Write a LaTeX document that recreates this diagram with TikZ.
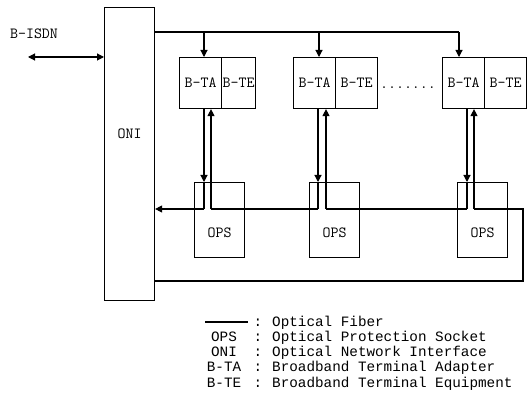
\documentclass[tikz,border=0pt]{standalone}
\usepackage{fontspec}
\usepackage{tikz}
\usetikzlibrary{arrows.meta, positioning}
\newfontfamily\keyfont{Liberation Mono}

\begin{document}
\begin{tikzpicture}[x=1pt, y=-1pt, >={Triangle[length=7pt,width=7pt]},
        fib/.style={line width=1.1pt},
        unit/.style={draw, fib, minimum width=42pt, minimum height=51pt, inner sep=0pt, anchor=north west},
        opsbox/.style={draw, fib, minimum width=50pt, minimum height=75pt, inner sep=0pt, anchor=north west},
        key/.style={font=\fontsize{14.3}{16}\selectfont\keyfont, inner sep=0pt},
        every node/.append style={font=\fontsize{15.5}{18}\selectfont\ttfamily}]
        \useasboundingbox (0,0) rectangle (532,403);
        \node[draw, fib, minimum width=50pt, minimum height=293pt, inner sep=0pt, anchor=north west] (oni) at (104,7) {};
        \node (onil) at ([yshift=20pt]oni.center) {ONI};
        \node (isdnl) at (34,34) {B-ISDN};
        \coordinate (isdn) at (28,57);
        \draw[fib,<->] (isdn) -- (isdn -| oni.west);
        \foreach \i/\tax/\tew/\xl/\xr/\xd/\opsx in {1/179/34/204/211/204/194, 2/293/42/318/326/319/309, 3/442/42/467/474/459/457} {
            \node[unit] (ta\i) at (\tax,57) {B-TA};
            \node[unit, minimum width=\tew pt, right=-1.1pt of ta\i] (te\i) {B-TE};
            \node[opsbox] (ops\i) at (\opsx,182) {};
            \node (opsl\i) at ([yshift=-13pt]ops\i.center) {OPS};
            \coordinate (dn\i) at (\xl,209);
            \coordinate (up\i) at (\xr,209);
            \coordinate (drop\i) at (\xd,32);
            \draw[fib,->] (drop\i) -- (drop\i |- ta\i.north);
            \draw[fib,->] (dn\i |- ta\i.south) -- (dn\i |- ops\i.north);
            \draw[fib] (dn\i |- ops\i.north) -- (dn\i);
            \draw[fib,->] (up\i) -- (up\i |- ta\i.south);
        }
        \node (dots) at (408,88) {.......};
        \coordinate (ring) at (523,281);
        \draw[fib] (oni.east |- drop1) -- (drop3);
        \draw[fib,->] (dn1) -- (dn1 -| oni.east);
        \draw[fib] (dn2) -- (up1);
        \draw[fib] (dn3) -- (up2);
        \draw[fib] (up3) -- (up3 -| ring) -- (ring) -- (ring -| oni.east);
        \coordinate (keya) at (205,322);
        \coordinate (keyb) at (248,322);
        \draw[fib] (keya) -- (keyb);
        \node[key, anchor=base] (col0) at (258,326) {:};
        \node[key, anchor=base west] (txt0) at (272,326) {Optical Fiber};
        \foreach \k/\ab/\txt in {1/OPS/Optical Protection Socket, 2/ONI/Optical Network Interface, 3/B-TA/Broadband Terminal Adapter, 4/B-TE/Broadband Terminal Equipment} {
            \node[key, anchor=base] (ab\k) at (224,326+15.3*\k) {\ab};
            \node[key, anchor=base] (col\k) at (258,326+15.3*\k) {:};
            \node[key, anchor=base west] (txt\k) at (272,326+15.3*\k) {\txt};
        }
    \end{tikzpicture}
\end{document}
